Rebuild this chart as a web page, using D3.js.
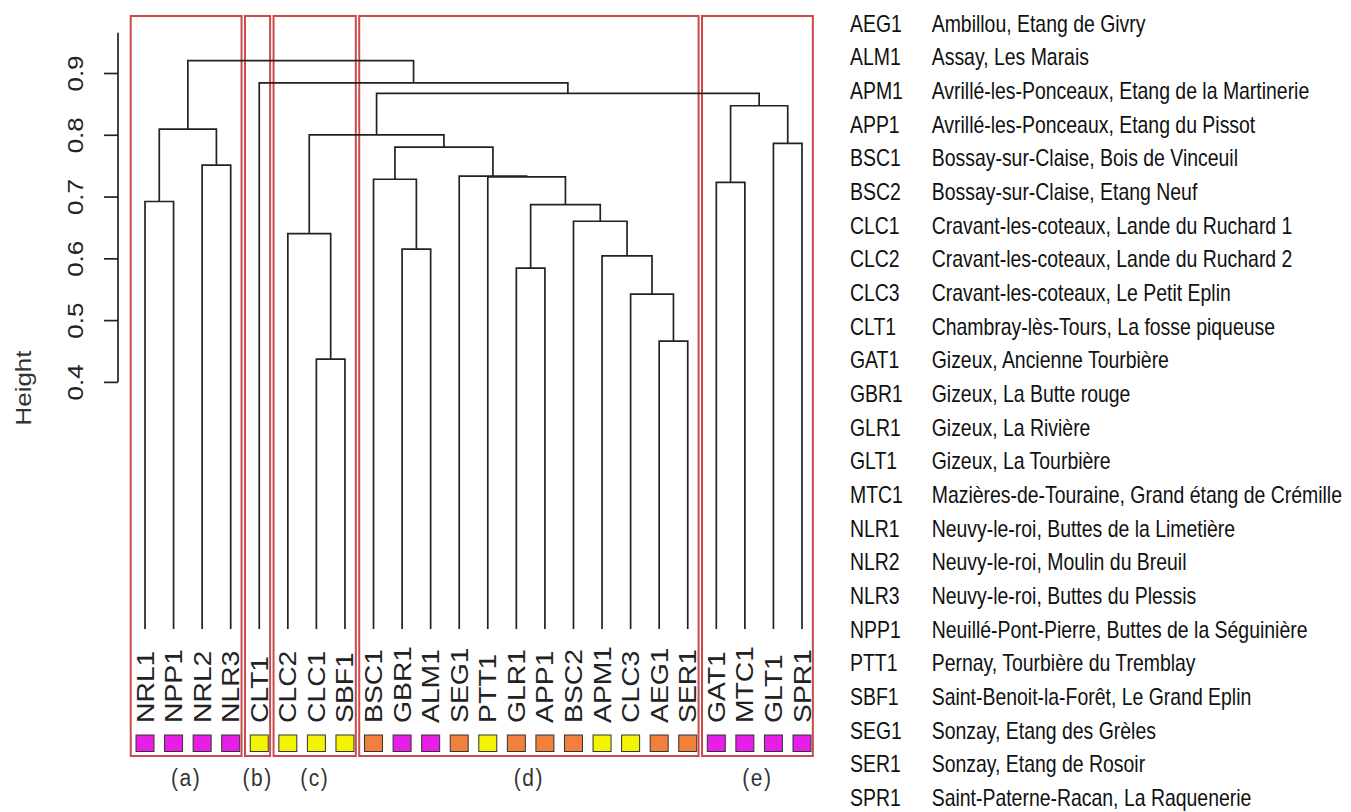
<!DOCTYPE html>
<html>
<head>
<meta charset="utf-8">
<script src="https://cdn.jsdelivr.net/npm/d3@7"></script>
<style>
  body { margin: 0; background: #fff; }
  svg { display: block; font-family: "Liberation Sans", Arial, sans-serif; }
</style>
</head>
<body>
<svg id="chart" width="1351" height="812"></svg>
<script>
// leaf order along the dendrogram
const leaves = ["NRL1","NPP1","NRL2","NLR3","CLT1","CLC2","CLC1","SBF1","BSC1","GBR1","ALM1","SEG1",
                "PTT1","GLR1","APP1","BSC2","APM1","CLC3","AEG1","SER1","GAT1","MTC1","GLT1","SPR1"];
// colour class of the square under each leaf (m = magenta, y = yellow, o = orange)
const leafClass = ["m","m","m","m","y","y","y","y","o","m","m","o",
                   "y","o","o","o","y","y","o","o","m","m","m","m"];
// merges: [left, right, height]
const merges = [
  ["AEG1","SER1",0.466],   // m1
  ["CLC1","SBF1",0.437],   // m2
  ["GLR1","APP1",0.584],   // m3
  ["CLC3","m1",0.542],     // m4
  ["GBR1","ALM1",0.615],   // m5
  ["APM1","m4",0.604],     // m6
  ["CLC2","m2",0.640],     // m7
  ["BSC2","m6",0.660],     // m8
  ["m3","m8",0.687],       // m9
  ["NRL1","NPP1",0.692],   // m10
  ["GAT1","MTC1",0.723],   // m11
  ["BSC1","m5",0.728],     // m12
  ["PTT1","m9",0.732],     // m13
  ["SEG1","m13",0.733],    // m14
  ["NRL2","NLR3",0.751],   // m15
  ["m12","m14",0.780],     // m16
  ["GLT1","SPR1",0.786],   // m17
  ["m7","m16",0.800],      // m18
  ["m10","m15",0.809],     // m19
  ["m11","m17",0.847],     // m20
  ["m18","m20",0.867],     // m21
  ["CLT1","m21",0.884],    // m22
  ["m19","m22",0.920]      // m23
];
const yTicks = [0.4, 0.5, 0.6, 0.7, 0.8, 0.9];
const groupLabels = ["(a)","(b)","(c)","(d)","(e)"];
const groupFirst = [0, 4, 5, 8, 20];
const groupLast  = [3, 4, 7, 19, 23];

const legendCodes = ["AEG1","ALM1","APM1","APP1","BSC1","BSC2","CLC1","CLC2","CLC3","CLT1","GAT1","GBR1",
                     "GLR1","GLT1","MTC1","NLR1","NLR2","NLR3","NPP1","PTT1","SBF1","SEG1","SER1","SPR1"];
const legendNames = [
  "Ambillou, Etang de Givry",
  "Assay, Les Marais",
  "Avrillé-les-Ponceaux, Etang de la Martinerie",
  "Avrillé-les-Ponceaux, Etang du Pissot",
  "Bossay-sur-Claise, Bois de Vinceuil",
  "Bossay-sur-Claise, Etang Neuf",
  "Cravant-les-coteaux, Lande du Ruchard 1",
  "Cravant-les-coteaux, Lande du Ruchard 2",
  "Cravant-les-coteaux, Le Petit Eplin",
  "Chambray-lès-Tours, La fosse piqueuse",
  "Gizeux, Ancienne Tourbière",
  "Gizeux, La Butte rouge",
  "Gizeux, La Rivière",
  "Gizeux, La Tourbière",
  "Mazières-de-Touraine, Grand étang de Crémille",
  "Neuvy-le-roi, Buttes de la Limetière",
  "Neuvy-le-roi, Moulin du Breuil",
  "Neuvy-le-roi, Buttes du Plessis",
  "Neuillé-Pont-Pierre, Buttes de la Séguinière",
  "Pernay, Tourbière du Tremblay",
  "Saint-Benoit-la-Forêt, Le Grand Eplin",
  "Sonzay, Etang des Grèles",
  "Sonzay, Etang de Rosoir",
  "Saint-Paterne-Racan, La Raquenerie"
];

const classColor = { m: "#e61ee6", y: "#f4f400", o: "#f0803c" };

const svg = d3.select("#chart");
const x = d3.scaleLinear().domain([0, leaves.length - 1]).range([145, 802]);
const y = d3.scaleLinear().domain([0, 0.9]).range([629, 73]);
const stretch = 1.18;   // the picture is taller than wide, text too

// build node positions
const nodes = {};
leaves.forEach((n, i) => nodes[n] = { x: i, h: 0 });
merges.forEach((m, i) => {
  const a = nodes[m[0]], b = nodes[m[1]];
  nodes["m" + (i + 1)] = { x: (a.x + b.x) / 2, h: m[2], a: a, b: b };
});

// group boxes
svg.append("g").selectAll("rect")
  .data(groupLabels).enter().append("rect")
  .attr("x", (d, i) => x(groupFirst[i] - 0.5))
  .attr("width", (d, i) => x(groupLast[i] + 0.38) - x(groupFirst[i] - 0.5))
  .attr("y", 16).attr("height", 740)
  .attr("fill", "none").attr("stroke", "#c94a4a").attr("stroke-width", 2);

svg.append("g").selectAll("text")
  .data(groupLabels).enter().append("text")
  .attr("transform", (d, i) => "translate(" + ((x(groupFirst[i] - 0.5) + x(groupLast[i] + 0.38)) / 2) + ",786) scale(1,1.1)")
  .attr("text-anchor", "middle")
  .attr("font-size", 21).attr("letter-spacing", 1.5).attr("fill", "#333")
  .text(d => d);

// dendrogram
const links = Object.values(nodes).filter(n => n.a);
svg.append("g").selectAll("path")
  .data(links).enter().append("path")
  .attr("d", n => "M" + x(n.a.x) + "," + y(n.a.h) + "V" + y(n.h) + "H" + x(n.b.x) + "V" + y(n.b.h))
  .attr("fill", "none").attr("stroke", "#222").attr("stroke-width", 1.7);

// leaf labels
svg.append("g").selectAll("text")
  .data(leaves).enter().append("text")
  .attr("transform", (d, i) => "translate(" + (x(i) + 8.5) + ",723) rotate(-90) scale(" + stretch + ",1)")
  .attr("font-size", 24).attr("fill", "#222")
  .text(d => d);

// colour squares
svg.append("g").selectAll("rect")
  .data(leaves).enter().append("rect")
  .attr("x", (d, i) => x(i) - 9).attr("y", 735)
  .attr("width", 18).attr("height", 16.5)
  .attr("fill", (d, i) => classColor[leafClass[i]])
  .attr("stroke", "#333").attr("stroke-width", 1);

// y axis
const axis = svg.append("g").attr("transform", "translate(118,0)")
  .call(d3.axisLeft(y).tickValues(yTicks).tickSize(14).tickFormat(d3.format(".1f")));
axis.select(".domain").remove();
axis.selectAll(".tick line").attr("stroke", "#222").attr("stroke-width", 1.7);
axis.selectAll(".tick text")
  .attr("x", null).attr("dy", null)
  .attr("transform", "translate(-35,0) rotate(-90) scale(" + stretch + ",1)")
  .attr("text-anchor", "middle").attr("font-size", 22).attr("fill", "#222")
  .attr("font-family", "Liberation Sans, Arial, sans-serif");
axis.append("line")
  .attr("x1", 0).attr("x2", 0).attr("y1", y(0.4)).attr("y2", y(0.965))
  .attr("stroke", "#222").attr("stroke-width", 1.7);

svg.append("text")
  .attr("transform", "translate(31,388) rotate(-90) scale(" + stretch + ",1)")
  .attr("text-anchor", "middle").attr("font-size", 22).attr("fill", "#333")
  .text("Height");

// legend
const leg = svg.append("g").selectAll("g")
  .data(legendCodes).enter().append("g")
  .attr("transform", (d, i) => "translate(850," + (31.7 + i * 33.66) + ") scale(0.845,1)");
leg.append("text").attr("font-size", 23).attr("fill", "#111").text(d => d);
leg.append("text").attr("x", 96.7).attr("font-size", 23).attr("fill", "#111")
  .text((d, i) => legendNames[i]);
</script>
</body>
</html>
